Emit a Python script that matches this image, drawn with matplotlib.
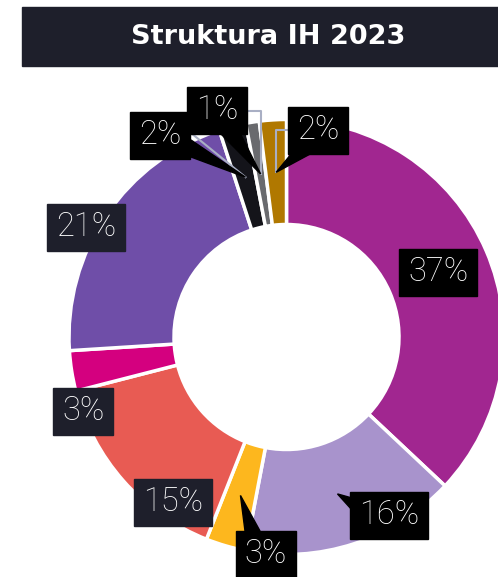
import matplotlib.pyplot as plt
from matplotlib.patches import Rectangle, Polygon
import numpy as np

# data (clockwise from 12 o'clock)
labels = ['37%', '16%', '3%', '15%', '3%', '21%', '2%', '1%', '2%']
shares = [37, 16, 3, 15, 3, 21, 2, 1, 2]
colors = ['#A12690', '#A893CC', '#FDB71E', '#E85B53', '#D4007F',
          '#6F4EA8', '#14141A', '#696A6E', '#B07800']
explode = [0, 0, 0, 0, 0, 0, 0.02, 0.02, 0.02]

# label boxes: centre in pixels (from top-left), box colour, pointer base offsets
box_pos = [(438, 272), (389, 515), (266, 554), (173, 502), (83, 411),
           (86, 227), (160, 135), (217, 110), (318, 130)]
box_col = ['#000000', '#000000', '#000000', '#1E1F2B', '#1E1F2B',
           '#1E1F2B', '#000000', '#000000', '#000000']
pointer = [None, [(-37, -17), (-37, -5)], [(-21, -23), (-6, -23)], None, None,
           None, [(31, 5), (31, 22)], [(3, 23), (23, 23)], [(-26, 23), (-6, 23)]]

W, H = 498, 577
NAVY = '#1E1F2B'
LINE = '#A9AFC4'

fig = plt.figure(figsize=(W / 100, H / 100), dpi=100)
ax = fig.add_axes([0, 0, 1, 1])

cx, cy = 286.5, H - 337
R = 217.5
ring = 105
wedges, _ = ax.pie(shares, colors=colors, startangle=90, counterclock=False,
                   radius=R, center=(cx, cy), explode=explode,
                   wedgeprops=dict(width=ring, edgecolor='white', linewidth=2.5))
ax.set_xlim(0, W)
ax.set_ylim(0, H)
ax.set_aspect('equal')
ax.axis('off')

# title banner
ax.add_patch(Rectangle((22, H - 66), W - 22, 59, color=NAVY, zorder=5))
ax.text(268, H - 37, 'Struktura IH 2023', color='white', fontsize=19.5,
        fontweight='bold', family='DejaVu Sans', ha='center', va='center', zorder=6)

def tip_of(w):
    mid = np.deg2rad((w.theta1 + w.theta2) / 2)
    r = w.r - w.width / 2
    return w.center[0] + r * np.cos(mid), w.center[1] + r * np.sin(mid)

# connector lines for the small slices
tips = [tip_of(w) for w in wedges]
tx, ty = tips[6]
ax.plot([191, tx], [H - 133, ty], color=LINE, lw=1.5, zorder=3)
tx, ty = tips[7]
ax.plot([244, tx, tx], [H - 111, H - 111, ty], color=LINE, lw=1.5, zorder=3)
tx, ty = tips[8]
ax.plot([288, tx, tx], [H - 130, H - 130, ty], color=LINE, lw=1.5, zorder=3)

renderer = fig.canvas.get_renderer()
for i, lab in enumerate(labels):
    bx, by = box_pos[i]
    by = H - by
    t = ax.text(bx, by, lab, color='white', fontsize=23.5, fontweight='light',
                family=['Roboto', 'DejaVu Sans'], ha='center', va='center', zorder=9)
    tw = t.get_window_extent(renderer).width
    bw, bh = tw + 18, 47
    ax.add_patch(Rectangle((bx - bw / 2, by - bh / 2), bw, bh,
                           color=box_col[i], zorder=8))
    if pointer[i] is not None:
        (ox1, oy1), (ox2, oy2) = pointer[i]
        pts = [(bx + ox1, by - oy1), (bx + ox2, by - oy2), tips[i]]
        ax.add_patch(Polygon(pts, closed=True, color=box_col[i], zorder=7))

plt.savefig('out.png', dpi=100)
